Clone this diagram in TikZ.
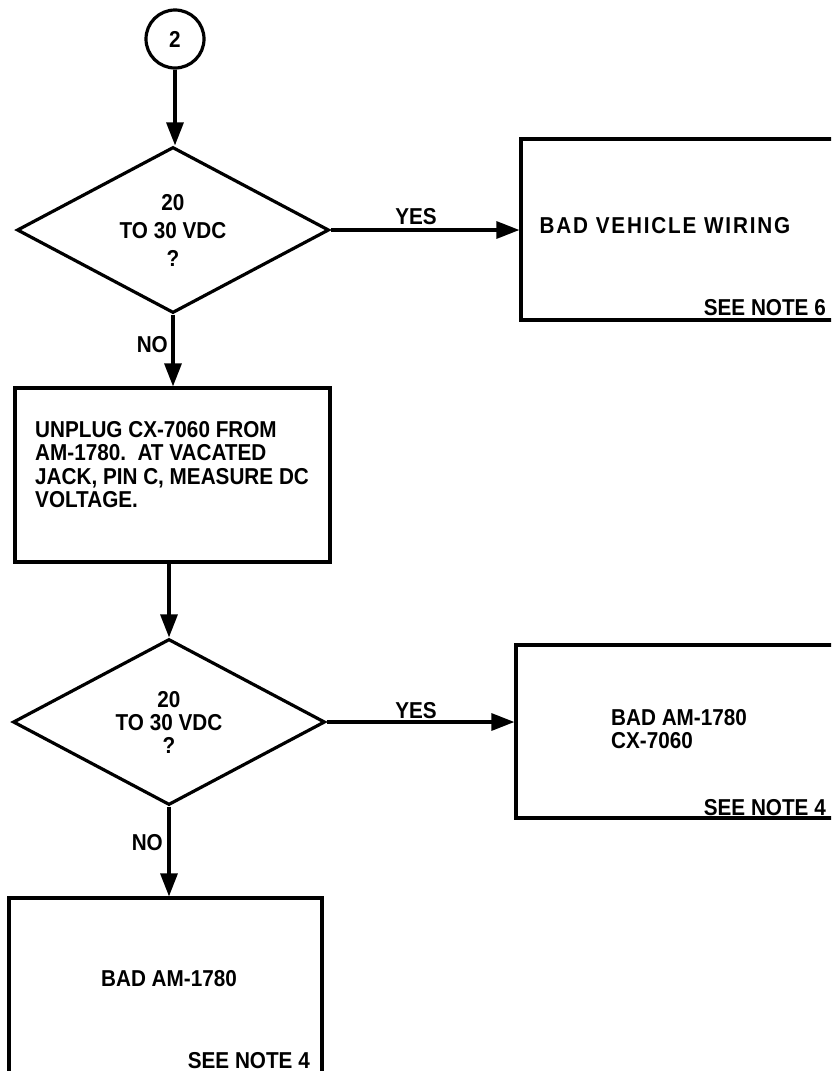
\documentclass[tikz,border=0pt]{standalone}
\usepackage{fontspec}
\setmainfont{Liberation Sans}[FakeStretch=0.9]
\usepackage{tikz}
\usetikzlibrary{shapes.geometric,arrows.meta}
\tikzset{
  fcline/.style={line width=3.2pt},
  fcconnector/.style={circle, draw, fcline, minimum size=58pt, inner sep=0pt,
                      font=\fontsize{23}{24}\bfseries},
  fcdecision/.style={diamond, draw, fcline, inner sep=0pt, align=center,
                     font=\fontsize{23}{28}\bfseries},
  fcstep/.style={rectangle, draw, fcline, inner sep=0pt},
  fctext/.style={font=\fontsize{23}{23.5}\bfseries, align=left, inner sep=0pt},
  fcflow/.style={fcline, -{Triangle[length=23pt, width=17pt]}},
  fclabel/.style={font=\fontsize{23}{24}\bfseries, inner sep=0pt}
}

\begin{document}
\begin{tikzpicture}[
    x=1pt, y=-1pt,
    % the two tests share one diamond, only the line spacing differs
    test/.style={fcdecision, minimum width=312pt, minimum height=166pt, aspect=1.88},
    note/.style={fclabel, anchor=base east}
]
  \useasboundingbox (0,0) rectangle (831,1071);
  \clip (0,0) rectangle (831,1071);

  % Connector and first test.
  \node[fcconnector] (start) at (175,39) {2};
  \node[test] (volt1) at (173,230) {20\\TO 30 VDC\\?};

  % The boxes on the right run off the page, so their texts are placed apart.
  \node[fcstep, minimum width=324pt, minimum height=181pt] (wiring) at (683,229.5) {};
  \node[fclabel, font=\fontsize{23}{24}\bfseries\addfontfeatures{LetterSpace=8}]
    (wiringtxt) at (665,226) {BAD VEHICLE WIRING};
  \node[note] (wiringnote) at (826,315) {SEE NOTE 6};

  \node[fcstep, minimum width=315pt, minimum height=174pt] (unplug) at (172.5,475) {};
  \node[fctext, anchor=north west] (unplugtxt) at (35,421)
    {UNPLUG CX-7060 FROM\\AM-1780.\ \ AT VACATED\\JACK, PIN C, MEASURE DC\\VOLTAGE.};

  % Second test.
  \node[test, font=\fontsize{23}{23}\bfseries] (volt2) at (169,722) {20\\TO 30 VDC\\?};

  \node[fcstep, minimum width=329pt, minimum height=173pt] (both) at (680.5,731.5) {};
  \node[fctext, anchor=north west] (bothtxt) at (611,709) {BAD AM-1780\\CX-7060};
  \node[note] (bothnote) at (826,815) {SEE NOTE 4};

  \node[fcstep, minimum width=313pt, minimum height=192pt] (amp) at (165.5,994) {};
  \node[fclabel] (amptxt) at (169,979) {BAD AM-1780};
  \node[note] (ampnote) at (310,1068) {SEE NOTE 4};

  % Flow.
  \draw[fcflow] (start.south) -- (start.south |- volt1.north);
  \draw[fcflow] (volt1.east) -- (volt1.east -| wiring.west);
  \draw[fcflow] (volt1.south) -- (volt1.south |- unplug.north);
  \draw[fcflow] (unplug.south -| volt2.north) -- (volt2.north);
  \draw[fcflow] (volt2.east) -- (volt2.east -| both.west);
  \draw[fcflow] (volt2.south) -- (volt2.south |- amp.north);

  % Answers.
  \node[fclabel] (yes1) at (416,217) {YES};
  \node[fclabel, anchor=east] (no1) at (168,345) {NO};
  \node[fclabel] (yes2) at (416,711) {YES};
  \node[fclabel, anchor=east] (no2) at (163,843) {NO};
\end{tikzpicture}
\end{document}
